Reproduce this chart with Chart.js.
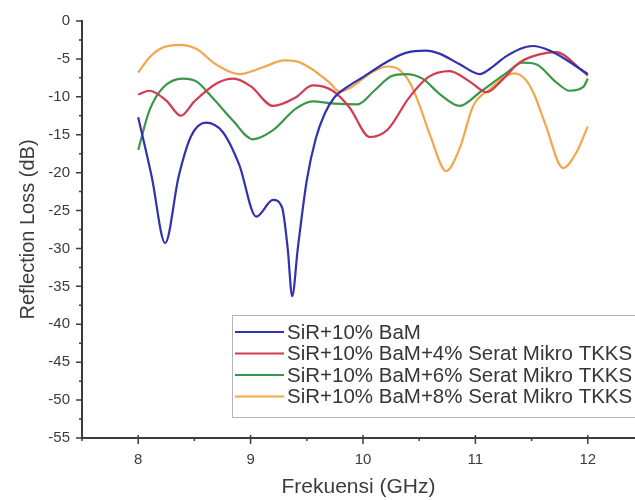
<!DOCTYPE html>
<html>
<head>
<meta charset="utf-8">
<script src="https://cdn.jsdelivr.net/npm/chart.js@4.4.1/dist/chart.umd.min.js"></script>
<style>
  html, body { margin: 0; padding: 0; background: #fff; }
</style>
</head>
<body>
<canvas id="chart" width="635" height="500"></canvas>
<script>
const seriesLabels = [
  "SiR+10% BaM",
  "SiR+10% BaM+4% Serat Mikro TKKS",
  "SiR+10% BaM+6% Serat Mikro TKKS",
  "SiR+10% BaM+8% Serat Mikro TKKS"
];

// frequency (GHz) / reflection loss (dB)
const freqBaM = [8.0, 8.12, 8.24, 8.36, 8.47, 8.6, 8.75, 8.9, 9.05, 9.2, 9.28, 9.33, 9.37, 9.42, 9.5, 9.58, 9.66, 9.75, 9.87, 10.0, 10.2, 10.38, 10.56, 10.68, 10.86, 11.04, 11.13, 11.28, 11.51, 11.66, 11.87, 12.0];
const lossBaM = [-12.7, -20.5, -29.3, -20.5, -15.2, -13.4, -14.6, -19.0, -25.8, -23.6, -24.6, -30, -36.3, -30, -21, -15.5, -12.2, -10.0, -8.6, -7.4, -5.5, -4.2, -3.9, -4.3, -5.7, -7.0, -6.3, -4.6, -3.3, -3.9, -5.7, -7.0];

const freq4 = [8.0, 8.1, 8.25, 8.38, 8.5, 8.7, 8.85, 9.0, 9.2, 9.4, 9.55, 9.73, 9.88, 10.06, 10.22, 10.41, 10.58, 10.77, 10.95, 11.1, 11.25, 11.39, 11.57, 11.72, 11.93, 12.0];
const loss4 = [-9.7, -9.2, -10.5, -12.5, -10.6, -8.2, -7.6, -8.6, -11.2, -10.1, -8.5, -9.2, -11.4, -15.3, -14.3, -10.1, -7.4, -6.6, -8.0, -9.4, -7.6, -5.5, -4.4, -4.1, -6.3, -7.2];

const freq6 = [8.0, 8.1, 8.22, 8.4, 8.52, 8.66, 8.84, 9.02, 9.2, 9.4, 9.55, 9.75, 9.95, 10.1, 10.25, 10.38, 10.53, 10.68, 10.86, 11.04, 11.28, 11.42, 11.54, 11.72, 11.84, 11.96, 12.0];
const loss6 = [-17.0, -11.8, -8.8, -7.6, -8.0, -10.1, -13.1, -15.6, -14.4, -11.6, -10.6, -10.9, -11.0, -9.2, -7.3, -7.0, -7.6, -9.6, -11.2, -9.4, -6.8, -5.5, -5.7, -8.1, -9.2, -8.7, -7.6];

const freq8 = [8.0, 8.1, 8.22, 8.37, 8.52, 8.69, 8.9, 9.11, 9.3, 9.4, 9.52, 9.7, 9.79, 9.9, 10.0, 10.1, 10.22, 10.32, 10.42, 10.5, 10.6, 10.74, 10.86, 10.98, 11.13, 11.28, 11.35, 11.45, 11.52, 11.62, 11.78, 11.9, 12.0];
const loss8 = [-6.8, -4.8, -3.5, -3.15, -3.7, -5.7, -7.0, -6.1, -5.2, -5.3, -6.1, -8.1, -9.3, -8.7, -7.6, -6.6, -6.0, -6.4, -8.2, -11.0, -15.2, -19.8, -16.8, -11.2, -9.0, -7.2, -6.9, -7.8, -9.6, -13.5, -19.4, -17.3, -13.9];

const xTicks = [8, 9, 10, 11, 12];
const xMinorTicks = [7.5, 8.5, 9.5, 10.5, 11.5];
const yTicks = [0, -5, -10, -15, -20, -25, -30, -35, -40, -45, -50, -55];
const yMinorTicks = [-2.5, -7.5, -12.5, -17.5, -22.5, -27.5, -32.5, -37.5, -42.5, -47.5, -52.5];

const colors = ["#3232ad", "#d43a50", "#3b9748", "#f3a64c"];
const axisColor = "#3c3c3c";
const fontFamily = "'Liberation Sans', Arial, sans-serif";

function toPoints(xs, ys) {
  return xs.map((x, i) => ({ x: x, y: ys[i] }));
}

const pairs = [[freqBaM, lossBaM], [freq4, loss4], [freq6, loss6], [freq8, loss8]];

const datasets = pairs.map((p, i) => ({
  label: seriesLabels[i],
  data: toPoints(p[0], p[1]),
  borderColor: colors[i],
  backgroundColor: colors[i],
  borderWidth: 2.2,
  pointRadius: 0,
  cubicInterpolationMode: "monotone",
  fill: false
}));

// minor/major tick marks drawn on the axes
const axisTicks = {
  id: "axisTicks",
  afterDraw(chart) {
    const { ctx, chartArea } = chart;
    const x = chart.scales.x;
    const y = chart.scales.y;
    ctx.save();
    ctx.strokeStyle = axisColor;
    ctx.lineWidth = 1.5;
    ctx.beginPath();
    yTicks.forEach((v) => {
      const py = y.getPixelForValue(v);
      ctx.moveTo(chartArea.left - 6, py);
      ctx.lineTo(chartArea.left, py);
    });
    yMinorTicks.forEach((v) => {
      const py = y.getPixelForValue(v);
      ctx.moveTo(chartArea.left - 3, py);
      ctx.lineTo(chartArea.left, py);
    });
    xTicks.forEach((v) => {
      const px = x.getPixelForValue(v);
      ctx.moveTo(px, chartArea.bottom - 3);
      ctx.lineTo(px, chartArea.bottom + 6);
    });
    xMinorTicks.forEach((v) => {
      const px = x.getPixelForValue(v);
      ctx.moveTo(px, chartArea.bottom);
      ctx.lineTo(px, chartArea.bottom + 3);
    });
    ctx.stroke();
    ctx.restore();
  }
};

// boxed legend inside the plot, like the original
const boxLegend = {
  id: "boxLegend",
  afterDraw(chart) {
    const ctx = chart.ctx;
    const left = 232, top = 315, rowH = 21.5;
    ctx.save();
    ctx.fillStyle = "#fff";
    ctx.fillRect(left, top, 420, 102);
    ctx.strokeStyle = "#b5b5b5";
    ctx.lineWidth = 1;
    ctx.strokeRect(left + 0.5, top + 0.5, 420, 102);
    ctx.font = "20.5px " + fontFamily;
    ctx.textBaseline = "middle";
    chart.data.datasets.forEach((ds, i) => {
      const cy = top + 17 + i * rowH;
      ctx.strokeStyle = ds.borderColor;
      ctx.lineWidth = 2;
      ctx.beginPath();
      ctx.moveTo(left + 3, cy);
      ctx.lineTo(left + 52, cy);
      ctx.stroke();
      ctx.fillStyle = "#363636";
      ctx.fillText(ds.label, left + 55, cy + 1);
    });
    ctx.restore();
  }
};

new Chart(document.getElementById("chart"), {
  type: "line",
  data: { datasets: datasets },
  plugins: [axisTicks, boxLegend],
  options: {
    responsive: false,
    animation: false,
    layout: { padding: { top: 20, right: 0, bottom: 0, left: 0 } },
    plugins: {
      legend: { display: false },
      tooltip: { enabled: false }
    },
    scales: {
      x: {
        type: "linear",
        min: 7.5,
        max: 12.42,
        afterFit: (s) => { s.height = 62; },
        afterBuildTicks: (s) => { s.ticks = xTicks.map((v) => ({ value: v })); },
        grid: { display: false, drawTicks: false },
        border: { display: true, color: axisColor, width: 2 },
        ticks: {
          padding: 13,
          color: axisColor,
          font: { family: fontFamily, size: 15 },
          maxRotation: 0
        },
        title: {
          display: true,
          text: "Frekuensi (GHz)",
          color: axisColor,
          font: { family: fontFamily, size: 21 },
          padding: { top: 0, bottom: 0 }
        }
      },
      y: {
        type: "linear",
        min: -55,
        max: 0,
        afterFit: (s) => { s.width = 82; },
        afterBuildTicks: (s) => { s.ticks = yTicks.map((v) => ({ value: v })); },
        grid: { display: false, drawTicks: false },
        border: { display: true, color: axisColor, width: 2 },
        ticks: {
          padding: 12,
          color: axisColor,
          font: { family: fontFamily, size: 15 }
        },
        title: {
          display: true,
          text: "Reflection Loss (dB)",
          color: axisColor,
          font: { family: fontFamily, size: 20 },
          padding: { top: 16, bottom: 0 }
        }
      }
    }
  }
});
</script>
</body>
</html>
